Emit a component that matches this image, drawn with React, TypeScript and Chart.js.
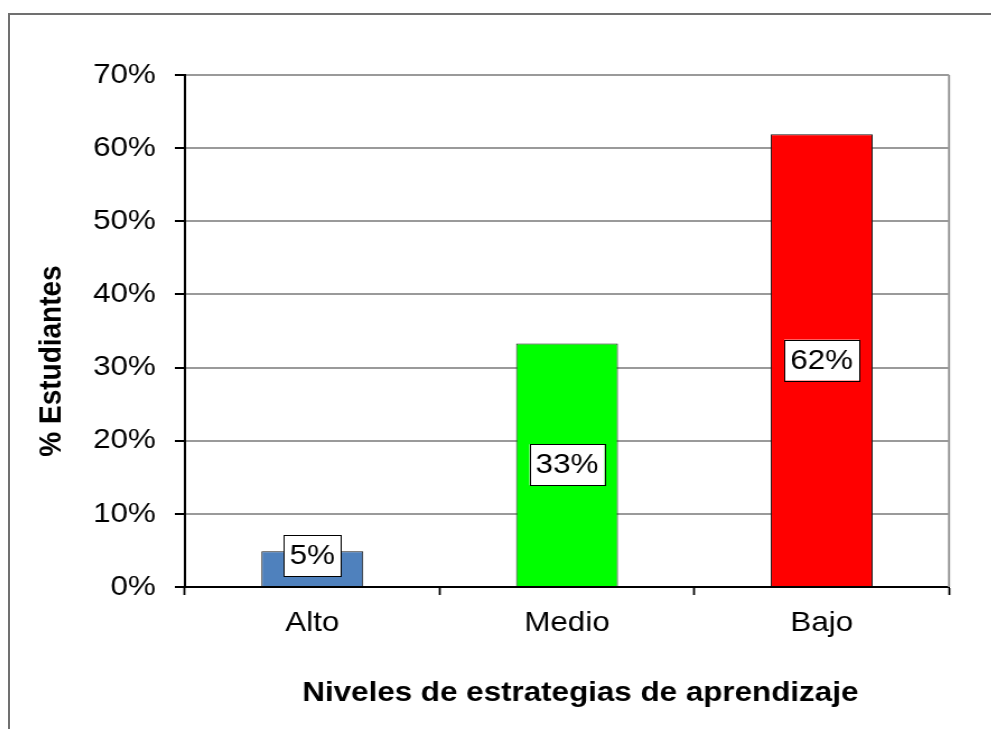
import React, { useEffect, useRef } from "react";
import { Chart, registerables } from "chart.js";

Chart.register(...registerables);

const categories = ["Alto", "Medio", "Bajo"];
const values = [4.9, 33.3, 61.9];
const valueLabels = ["5%", "33%", "62%"];
const barColors = ["#4F81BD", "#00FF00", "#FF0000"];
const yMin = 0;
const yMax = 70;
const yStep = 10;
const yTitle = "% Estudiantes";
const xTitle = "Niveles de estrategias de aprendizaje";

const SX = 1.12;
const W = 885;
const H = 721;
const FONT = "'Liberation Sans', Arial, Helvetica, sans-serif";

const decor = {
  id: "decor",
  beforeDatasetsDraw(chart: any) {
    const { ctx, chartArea: ca } = chart;
    ctx.save();
    ctx.strokeStyle = "#9a9a9a";
    ctx.lineWidth = 2;
    ctx.beginPath();
    ctx.moveTo(ca.right, ca.top);
    ctx.lineTo(ca.right, ca.bottom);
    ctx.stroke();
    ctx.restore();
  },
  afterDatasetsDraw(chart: any) {
    const { ctx } = chart;
    const meta = chart.getDatasetMeta(0);
    ctx.save();
    ctx.font = `28px ${FONT}`;
    meta.data.forEach((bar: any, i: number) => {
      const { x, y, base } = bar.getProps(["x", "y", "base"], true);
      const txt = valueLabels[i];
      const tw = ctx.measureText(txt).width;
      const bw = tw + 11;
      const bh = 41;
      let cy = (y + base) / 2;
      cy = Math.min(cy, base - 10 - bh / 2);
      ctx.fillStyle = "#ffffff";
      ctx.fillRect(x - bw / 2, cy - bh / 2, bw, bh);
      ctx.strokeStyle = "#000000";
      ctx.lineWidth = 1;
      ctx.strokeRect(Math.round(x - bw / 2) + 0.5, Math.round(cy - bh / 2) + 0.5, Math.round(bw), bh);
      ctx.fillStyle = "#000000";
      ctx.textAlign = "center";
      ctx.textBaseline = "middle";
      ctx.fillText(txt, x, cy + 1);
    });
    ctx.restore();
  },
  afterDraw(chart: any) {
    const { ctx } = chart;
    ctx.save();
    ctx.fillStyle = "#000000";
    ctx.font = `bold 28px ${FONT}`;
    ctx.textAlign = "center";
    ctx.textBaseline = "middle";
    ctx.fillText(xTitle, 511, 685);
    ctx.translate(39.3, 353);
    ctx.rotate(-Math.PI / 2);
    ctx.fillText(yTitle, 0, 0);
    ctx.restore();
  },
};

export default function App() {
  const ref = useRef<HTMLCanvasElement>(null);
  useEffect(() => {
    Chart.defaults.font.family = FONT;
    const chart = new Chart(ref.current!, {
      type: "bar",
      data: {
        labels: categories,
        datasets: [
          {
            data: values,
            backgroundColor: barColors,
            borderColor: "#1a1a1a",
            borderWidth: 1,
            categoryPercentage: 1,
            barPercentage: 0.4,
          },
        ],
      },
      options: {
        responsive: false,
        animation: false,
        devicePixelRatio: 1,
        layout: { padding: { left: 0, top: 67, right: 44.8, bottom: 0 } },
        plugins: { legend: { display: false }, tooltip: { enabled: false }, title: { display: false } },
        scales: {
          x: {
            afterFit: (s: any) => {
              s.height = 142;
            },
            grid: {
              display: true,
              drawOnChartArea: false,
              drawTicks: true,
              tickLength: 8,
              tickColor: "#000000",
              tickWidth: 1.8,
              offset: true,
            },
            border: { display: true, color: "#000000", width: 2 },
            ticks: { color: "#000000", font: { size: 28, family: FONT }, padding: 11 },
          },
          y: {
            min: yMin,
            max: yMax,
            afterFit: (s: any) => {
              s.width = 158;
            },
            grid: {
              color: "#9a9a9a",
              lineWidth: 2,
              tickColor: "#000000",
              tickLength: 9,
              tickWidth: 2,
            },
            border: { display: true, color: "#000000", width: 2 },
            ticks: {
              stepSize: yStep,
              color: "#000000",
              font: { size: 28, family: FONT },
              padding: 17,
              callback: (v: any) => `${v}%`,
            },
          },
        },
      },
      plugins: [decor],
    });
    return () => chart.destroy();
  }, []);
  return (
    <div style={{ position: "relative", width: 991, height: 721, overflow: "hidden", background: "#fff" }}>
      <div
        style={{
          position: "absolute",
          left: 0,
          top: 5,
          width: 1200,
          height: 1000,
          border: "2px solid #707070",
        }}
      />
      <div
        style={{
          position: "absolute",
          left: 0,
          top: 0,
          width: W,
          height: H,
          transform: `scaleX(${SX})`,
          transformOrigin: "0 0",
        }}
      >
        <canvas ref={ref} width={W} height={H} style={{ width: W, height: H, display: "block" }} />
      </div>
    </div>
  );
}
